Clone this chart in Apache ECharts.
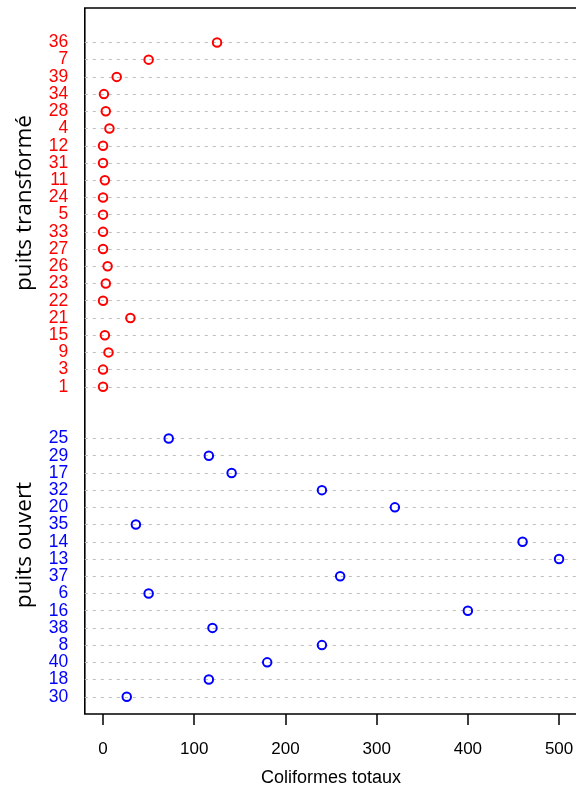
<!DOCTYPE html>
<html>
<head>
<meta charset="utf-8">
<script src="https://cdn.jsdelivr.net/npm/echarts@6/dist/echarts.min.js"></script>
<style>
  html, body { margin: 0; padding: 0; background: #fff; }
  #chart { width: 576px; height: 789px; }
</style>
</head>
<body>
<div id="chart"></div>
<script>
// Wells grouped by type, listed top to bottom as they appear in the dot chart
const transformeLabels = ['36', '7', '39', '34', '28', '4', '12', '31', '11', '24', '5',
                          '33', '27', '26', '23', '22', '21', '15', '9', '3', '1'];
const transformeValues = [125, 50, 15, 1, 3, 7, 0, 0, 2, 0, 0,
                          0, 0, 5, 3, 0, 30, 2, 6, 0, 0];

const ouvertLabels = ['25', '29', '17', '32', '20', '35', '14', '13', '37', '6', '16',
                      '38', '8', '40', '18', '30'];
const ouvertValues = [72, 116, 141, 240, 320, 36, 460, 500, 260, 50, 400,
                      120, 240, 180, 116, 26];

const groupNames = ['puits transformé', 'puits ouvert'];
const xTicks = [0, 100, 200, 300, 400, 500];
const xTitle = 'Coliformes totaux';

const X_MIN = -20, X_MAX = 520;

// Row positions: "puits ouvert" occupies 1..16, a two-row gap, then "puits transformé" 19..39
const ouvertPos = ouvertLabels.map((_, i) => ouvertLabels.length - i);
const transformePos = transformeLabels.map((_, i) => ouvertLabels.length + 2 + transformeLabels.length - i);

const RED = '#ff0000';
const BLUE = '#0000ff';
const SANS = '"Liberation Sans", Arial, sans-serif';

// Open circles for one group, with a dotted guide line on every row
function dotSeries(name, values, pos, color) {
  return {
    name: name,
    type: 'scatter',
    z: 3,
    symbol: 'circle',
    symbolSize: 8.5,
    itemStyle: { color: 'rgba(0,0,0,0)', borderColor: color, borderWidth: 2, opacity: 1 },
    data: values.map((v, i) => [v, pos[i]]),
    markLine: {
      silent: true,
      z: 1,
      symbol: ['none', 'none'],
      label: { show: false },
      animation: false,
      lineStyle: { color: '#bdbdbd', type: [3, 5], width: 1.2, opacity: 1 },
      data: pos.map(p => ({ yAxis: p }))
    }
  };
}

// Row names, placed just left of the plot frame in the group's colour
function rowLabelSeries(labels, pos, color) {
  return {
    type: 'scatter',
    silent: true,
    z: 4,
    symbolSize: 1,
    itemStyle: { color: 'rgba(0,0,0,0)', opacity: 1 },
    data: labels.map((t, i) => ({ name: t, value: [X_MIN, pos[i]] })),
    label: {
      show: true,
      position: 'left',
      distance: 16,
      formatter: '{b}',
      color: color,
      opacity: 1,
      fontSize: 17.5,
      fontFamily: SANS
    },
    labelLayout: { hideOverlap: false }
  };
}

const chart = echarts.init(document.getElementById('chart'), null, { renderer: 'canvas' });
chart.setOption({
  animation: false,
  backgroundColor: '#ffffff',
  grid: {
    left: 84.8, top: 8, width: 492.5, height: 706,
    outerBoundsMode: 'none',
    containLabel: false,
    show: true, borderColor: '#000', borderWidth: 1.6, backgroundColor: 'transparent'
  },
  xAxis: {
    type: 'value',
    min: X_MIN, max: X_MAX,
    position: 'bottom',
    axisLine: { show: false },
    splitLine: { show: false },
    axisTick: {
      show: true, inside: false, length: 11,
      lineStyle: { color: '#000', width: 1.5 },
      customValues: xTicks
    },
    axisLabel: {
      show: true, margin: 27,
      customValues: xTicks,
      color: '#000', fontSize: 17,
      fontFamily: SANS
    },
    name: xTitle,
    nameLocation: 'middle',
    nameGap: 55,
    nameTextStyle: { color: '#000', fontSize: 18, fontFamily: SANS }
  },
  yAxis: {
    type: 'value',
    min: 0, max: 41,
    axisLine: { show: false },
    axisTick: { show: false },
    splitLine: { show: false },
    axisLabel: { show: false }
  },
  graphic: [
    {
      type: 'text', x: 25, y: 203, rotation: Math.PI / 2,
      style: {
        text: groupNames[0], fill: '#000', fontSize: 22.5,
        fontFamily: '"Open Sans", sans-serif', align: 'center', verticalAlign: 'middle'
      }
    },
    {
      type: 'text', x: 25, y: 545, rotation: Math.PI / 2,
      style: {
        text: groupNames[1], fill: '#000', fontSize: 22.5,
        fontFamily: '"Open Sans", sans-serif', align: 'center', verticalAlign: 'middle'
      }
    }
  ],
  series: [
    dotSeries(groupNames[0], transformeValues, transformePos, RED),
    dotSeries(groupNames[1], ouvertValues, ouvertPos, BLUE),
    rowLabelSeries(transformeLabels, transformePos, RED),
    rowLabelSeries(ouvertLabels, ouvertPos, BLUE)
  ]
});
</script>
</body>
</html>
